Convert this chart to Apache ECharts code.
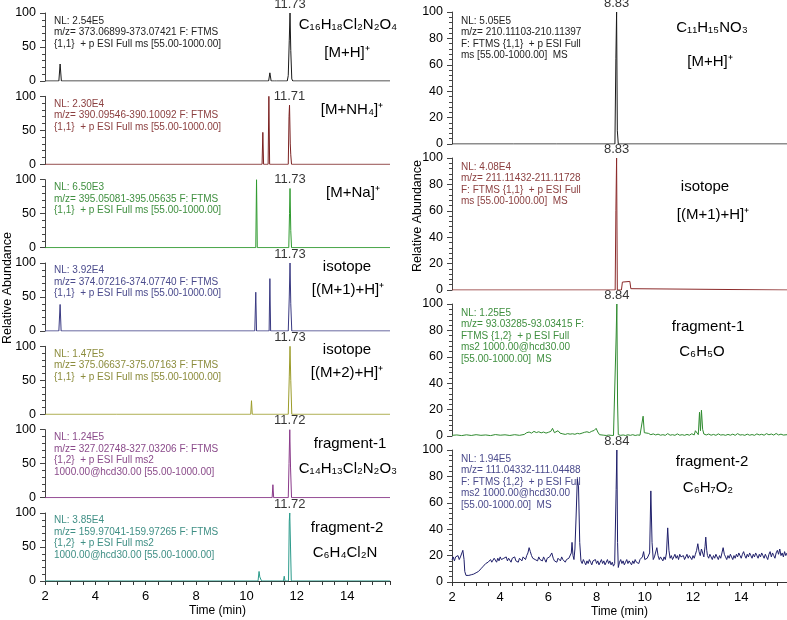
<!DOCTYPE html>
<html><head><meta charset="utf-8">
<script src="https://cdn.jsdelivr.net/npm/echarts@6/dist/echarts.min.js"></script>
<style>html,body{margin:0;padding:0;background:#fff}#c{width:787px;height:620px}</style>
</head><body><div id="c"></div>
<script>
// ---------------- data ----------------
const xTicks = [2, 4, 6, 8, 10, 12, 14];
const leftYTicks = [0, 50, 100];
const rightYTicks = [0, 20, 40, 60, 80, 100];

const L1 = [[2,0],[2.55,0],[2.6,25],[2.65,0],[10.88,0],[10.93,12],[10.98,0],[11.12,0],[11.15,2],[11.2,0],[11.62,0],[11.66,8],[11.7,60],[11.73,100],[11.76,45],[11.8,3],[11.84,0],[15.7,0]];
const L2 = [[2,0],[10.62,0],[10.65,47],[10.68,0],[10.86,0],[10.89,100],[10.92,0],[11.66,0],[11.69,70],[11.71,87],[11.74,30],[11.76,14],[11.79,0],[15.7,0]];
const L3 = [[2,0],[10.37,0],[10.4,100],[10.43,0],[11.68,0],[11.71,50],[11.73,87],[11.76,25],[11.79,0],[15.7,0]];
const L4 = [[2,0],[2.55,0],[2.6,39],[2.64,0],[10.33,0],[10.37,57],[10.4,0],[10.9,0],[10.93,77],[10.96,0],[11.66,0],[11.7,50],[11.73,100],[11.76,40],[11.8,0],[15.7,0]];
const L5 = [[2,0],[4.85,0],[4.87,1.5],[4.9,0],[10.17,0],[10.2,20],[10.23,0],[11.66,0],[11.7,55],[11.73,100],[11.76,50],[11.8,0],[15.7,0]];
const L6 = [[2,0],[11.02,0],[11.05,19],[11.08,0],[11.66,0],[11.69,50],[11.72,100],[11.75,45],[11.79,0],[15.7,0]];
const L7 = [[2,0],[2.42,0],[2.45,2],[2.5,0],[10.46,0],[10.5,14],[10.53,6],[10.56,4],[10.6,0],[11.47,0],[11.5,7],[11.53,0],[11.67,0],[11.7,88],[11.72,100],[11.75,50],[11.78,0],[15.7,0]];

const R1 = [[2,0],[4.55,0],[4.57,1],[4.6,0],[6.33,0],[6.36,1],[6.4,0],[8.76,0],[8.8,65],[8.83,100],[8.86,10],[8.9,0],[15.9,0]];
const R2 = [[2,0],[8.77,0],[8.8,60],[8.83,100],[8.86,0],[9.03,0],[9.07,6],[9.38,6.5],[9.42,1],[9.5,0],[15.9,0]];
const R3 = [[2,0.5],[2.2,0.8],[2.4,0.3],[2.6,0.9],[2.8,0.4],[3,1],[3.2,0.5],[3.4,0.8],[3.6,0.3],[3.8,1.1],[4,0.6],[4.2,0.9],[4.4,0.4],[4.6,1],[4.8,0.5],[5,1.2],[5.1,2.5],[5.2,3],[5.3,2.2],[5.4,3.5],[5.5,2.6],[5.6,3.2],[5.7,2.4],[5.8,3],[5.9,2.2],[6,2.8],[6.1,3.5],[6.17,5.8],[6.25,2.5],[6.32,2],[6.4,4],[6.48,2.2],[6.6,1.6],[6.7,1.2],[6.8,1.8],[6.9,1.4],[7,1.7],[7.1,1.3],[7.2,2],[7.3,1.6],[7.4,2.2],[7.5,2.8],[7.6,3.2],[7.7,2.6],[7.8,3.6],[7.9,4.2],[7.98,5.8],[8.05,3],[8.12,1],[8.2,0.3],[8.3,0.6],[8.4,0.4],[8.5,0.7],[8.6,0.5],[8.7,0.4],[8.78,0.5],[8.81,75],[8.84,100],[8.87,25],[8.9,1],[9,0.5],[9.1,0.8],[9.2,0.4],[9.3,0.9],[9.4,0.5],[9.5,1],[9.6,0.4],[9.7,0.8],[9.8,0.6],[9.88,0.8],[9.93,15],[9.98,2.5],[10.05,1.2],[10.15,2],[10.25,1],[10.35,1.6],[10.45,0.8],[10.55,1.4],[10.65,0.6],[10.75,1],[10.85,0.5],[10.95,1.8],[11.05,0.6],[11.15,1],[11.25,0.5],[11.35,1.6],[11.45,0.6],[11.55,1],[11.65,0.5],[11.75,1.2],[11.85,0.6],[11.95,1.7],[12.05,0.8],[12.1,4],[12.18,3.5],[12.22,1],[12.27,18],[12.31,4],[12.35,19.5],[12.4,5],[12.45,1.5],[12.55,0.8],[12.65,1.5],[12.75,0.6],[12.85,1.2],[12.95,0.5],[13.05,1.6],[13.15,0.7],[13.25,1],[13.35,0.5],[13.45,1.2],[13.55,0.6],[13.65,1.4],[13.75,0.5],[13.85,1.8],[13.95,0.7],[14.05,1],[14.15,0.5],[14.25,1.4],[14.35,0.6],[14.45,1.1],[14.55,0.5],[14.65,1.6],[14.75,0.8],[14.85,1.3],[14.95,0.6],[15.05,1.8],[15.15,0.9],[15.25,1.5],[15.35,0.7],[15.45,1.9],[15.55,0.8],[15.65,1.4],[15.75,0.7],[15.9,1]];
const R4 = [[2,17],[2.05,19],[2.1,16],[2.15,19],[2.2,18],[2.25,20],[2.3,17],[2.35,19],[2.4,20],[2.45,24],[2.5,17],[2.53,8],[2.58,5],[2.65,4],[2.7,5],[2.75,4.5],[2.8,5.5],[2.85,5],[2.9,6],[2.95,6.5],[3,7],[3.05,7],[3.1,8],[3.15,9],[3.2,10],[3.25,9.5],[3.3,12],[3.35,11],[3.4,14],[3.45,13],
[3.5,15],[3.55,14],[3.6,17],[3.65,15],[3.7,16],[3.75,18],[3.8,17],[3.85,15],[3.9,18],[3.95,16],[4,19],[4.05,17],[4.1,16],[4.15,18],[4.2,17],[4.25,19],[4.3,16],[4.35,18],[4.4,17],[4.45,15],[4.5,18],[4.55,17],[4.6,19],[4.65,16],[4.7,17],[4.75,15],[4.8,18],[4.85,17],[4.9,16],[4.95,19],[5,18],[5.05,17],[5.1,20],[5.15,22],[5.2,26],[5.25,23],[5.3,20],[5.35,18],[5.4,19],[5.45,17],[5.5,18],[5.55,16],[5.6,19],[5.65,17],[5.7,18],[5.75,16],[5.8,19],[5.85,17],[5.9,15],[5.95,18],[6,17],[6.05,19],[6.1,20],[6.14,22],[6.2,18],[6.25,16],[6.3,17],[6.35,15],[6.4,18],[6.45,17],[6.5,16],[6.55,19],[6.6,17],[6.65,18],[6.7,15],[6.75,17],[6.8,16],[6.85,18],[6.9,17],[6.95,22],[6.98,30],[7.02,20],[7.06,17],[7.1,25],[7.15,50],[7.2,78],[7.25,72],[7.3,30],[7.35,16],[7.4,14],[7.45,17],[7.5,15],[7.55,13],[7.6,16],[7.65,14],[7.7,17],[7.75,15],[7.8,13],[7.85,16],[7.9,15],[7.95,17],[8,14],[8.05,16],[8.1,13],[8.15,15],[8.2,17],[8.25,14],[8.3,16],[8.35,13],[8.4,15],[8.45,17],[8.5,14],[8.55,16],[8.6,13],[8.65,15],[8.7,12],[8.75,14],[8.79,13],[8.81,70],[8.84,100],[8.87,30],[8.9,11],[8.95,15],[9,17],[9.05,14],[9.1,16],[9.15,13],[9.2,15],[9.25,17],[9.3,14],[9.35,16],[9.4,15],[9.45,13],[9.5,16],[9.55,14],[9.6,17],[9.65,15],[9.7,16],[9.75,14],[9.8,17],[9.85,16],[9.9,19],[9.95,23],[10,17],[10.05,16],[10.1,18],[10.15,17],[10.2,22],[10.25,69],[10.3,30],[10.35,17],[10.4,19],[10.45,18],[10.5,26],[10.55,20],[10.6,17],[10.65,19],[10.7,18],[10.75,16],[10.8,19],[10.85,17],[10.9,22],[10.95,41],[11,24],[11.05,18],[11.1,20],[11.15,17],[11.2,19],[11.25,21],[11.3,18],[11.35,20],[11.4,17],[11.45,21],[11.5,19],[11.55,18],[11.6,20],[11.65,17],[11.7,19],[11.75,21],[11.8,18],[11.85,20],[11.9,19],[11.95,17],[12,20],[12.05,18],[12.1,21],[12.15,24],[12.2,29],[12.25,23],[12.3,20],[12.35,25],[12.4,22],[12.45,19],[12.5,27],[12.53,34],[12.57,24],[12.6,20],[12.65,18],[12.7,21],[12.75,19],[12.8,17],[12.85,20],[12.9,18],[12.95,21],[13,19],[13.05,17],[13.1,20],[13.15,18],[13.2,22],[13.25,26],[13.3,21],[13.35,19],[13.4,17],[13.45,20],[13.5,18],[13.55,21],[13.6,19],[13.65,17],[13.7,20],[13.75,18],[13.8,21],[13.85,19],[13.9,22],[13.95,20],[14,18],[14.05,21],[14.1,23],[14.15,20],[14.2,18],[14.25,21],[14.3,19],[14.35,22],[14.4,20],[14.45,18],[14.5,21],[14.55,19],[14.6,22],[14.65,20],[14.7,18],[14.75,21],[14.8,19],[14.85,22],[14.9,20],[14.95,18],[15,21],[15.05,19],[15.1,17],[15.15,21],[15.2,23],[15.25,19],[15.3,22],[15.35,20],[15.4,18],[15.45,22],[15.5,24],[15.55,21],[15.6,25],[15.65,20],[15.7,22],[15.75,19],[15.8,23],[15.85,20],[15.9,22]];

const leftData = [L1, L2, L3, L4, L5, L6, L7];
const rightData = [R1, R2, R3, R4];
const leftPeakTimes = [11.73, 11.71, 11.73, 11.73, 11.73, 11.72, 11.72];
const rightPeakTimes = [8.83, 8.83, 8.84, 8.84];

const leftInfo = [
  ["NL: 2.54E5", "m/z= 373.06899-373.07421 F: FTMS", "{1,1}  + p ESI Full ms [55.00-1000.00]"],
  ["NL: 2.30E4", "m/z= 390.09546-390.10092 F: FTMS", "{1,1}  + p ESI Full ms [55.00-1000.00]"],
  ["NL: 6.50E3", "m/z= 395.05081-395.05635 F: FTMS", "{1,1}  + p ESI Full ms [55.00-1000.00]"],
  ["NL: 3.92E4", "m/z= 374.07216-374.07740 F: FTMS", "{1,1}  + p ESI Full ms [55.00-1000.00]"],
  ["NL: 1.47E5", "m/z= 375.06637-375.07163 F: FTMS", "{1,1}  + p ESI Full ms [55.00-1000.00]"],
  ["NL: 1.24E5", "m/z= 327.02748-327.03206 F: FTMS", "{1,2}  + p ESI Full ms2", "1000.00@hcd30.00 [55.00-1000.00]"],
  ["NL: 3.85E4", "m/z= 159.97041-159.97265 F: FTMS", "{1,2}  + p ESI Full ms2", "1000.00@hcd30.00 [55.00-1000.00]"]
];
const rightInfo = [
  ["NL: 5.05E5", "m/z= 210.11103-210.11397", "F: FTMS {1,1}  + p ESI Full", "ms [55.00-1000.00]  MS"],
  ["NL: 4.08E4", "m/z= 211.11432-211.11728", "F: FTMS {1,1}  + p ESI Full", "ms [55.00-1000.00]  MS"],
  ["NL: 1.25E5", "m/z= 93.03285-93.03415 F:", "FTMS {1,2}  + p ESI Full", "ms2 1000.00@hcd30.00", "[55.00-1000.00]  MS"],
  ["NL: 1.94E5", "m/z= 111.04332-111.04488", "F: FTMS {1,2}  + p ESI Full", "ms2 1000.00@hcd30.00", "[55.00-1000.00]  MS"]
];
const leftTags = [
  ["C₁₆H₁₈Cl₂N₂O₄", "[M+H]⁺"],
  ["[M+NH₄]⁺"],
  ["[M+Na]⁺"],
  ["isotope", "[(M+1)+H]⁺"],
  ["isotope", "[(M+2)+H]⁺"],
  ["fragment-1", "C₁₄H₁₃Cl₂N₂O₃"],
  ["fragment-2", "C₆H₄Cl₂N"]
];
const rightTags = [
  ["C₁₁H₁₅NO₃", "[M+H]⁺"],
  ["isotope", "[(M+1)+H]⁺"],
  ["fragment-1", "C₆H₅O"],
  ["fragment-2", "C₆H₇O₂"]
];
const axisTitleX = "Time (min)";
const axisTitleY = "Relative Abundance";

// ---------------- styles / layout ----------------
const leftColors = ['#1a1a1a', '#7b2222', '#2f9a2f', '#3a3a82', '#9c9c2a', '#8a3a8a', '#2a9a8a'];
const leftTextColors = ['#222222', '#8c4040', '#3f8f3f', '#4a4a8c', '#8c8c3c', '#8a4a8a', '#3f8f85'];
const rightColors = ['#1a1a1a', '#8b2a2a', '#2f8a2f', '#1f1f6a'];
const rightTextColors = ['#222222', '#8c4040', '#3f8f3f', '#4a4a8c'];
const FONT = 'Liberation Sans, Arial, sans-serif';

const LG = { left: 45, width: 345, h: 68, top0: 13, step: 83.33, xMax: 15.7 };
const RG = { left: 452, width: 335, h: 132, top0: 12, step: 146, xMax: 15.9 };
const leftTagPos = [[[348, 12], [347, 40]], [[352, 14]], [[353, 13]], [[347, 4], [348, 27]], [[347, 4], [347, 27]], [[350, 14], [348, 39]], [[347, 15], [345, 40]]];
const rightTagPos = [[[712, 16], [710, 50]], [[705, 29], [713, 57]], [[708, 23], [702, 48]], [[712, 12], [708, 38]]];

const grids = [], xAxes = [], yAxes = [], series = [], graphic = [];

function addPanel(data, peakT, color, tcolor, info, tags, tagPos, G, i, n, yTicks, infoX, infoOff) {
  const top = G.top0 + G.step * i;
  const gi = grids.length;
  const isBottom = i === n - 1;
  grids.push({ left: G.left, top: top, width: G.width, height: G.h });
  xAxes.push({
    type: 'value', gridIndex: gi, min: 2, max: G.xMax, interval: 2, show: isBottom,
    axisLine: { show: true, lineStyle: { color: '#333', width: 1 } },
    axisTick: { show: true, length: 4, lineStyle: { color: '#333' } },
    minorTick: { show: true, splitNumber: 4, length: 4, lineStyle: { color: '#333' } },
    splitLine: { show: false },
    axisLabel: { show: true, fontSize: 13, color: '#000', fontFamily: FONT, margin: 9, showMaxLabel: false,
      formatter: v => xTicks.includes(v) ? String(v) : '' },
    name: isBottom ? axisTitleX : '', nameLocation: 'middle', nameGap: 24,
    nameTextStyle: { fontSize: 12, color: '#000', fontFamily: FONT }
  });
  yAxes.push({
    type: 'value', gridIndex: gi, min: 0, max: 100, interval: yTicks[1] - yTicks[0],
    axisLine: { show: true, lineStyle: { color: '#444', width: 1 } },
    axisTick: { show: true, length: 5, lineStyle: { color: '#444' } },
    minorTick: { show: true, splitNumber: 5, length: 3, lineStyle: { color: '#444' } },
    splitLine: { show: false },
    axisLabel: { fontSize: 12.5, color: '#000', fontFamily: FONT, margin: 9,
      formatter: v => yTicks.includes(v) ? String(v) : '' }
  });
  series.push({
    type: 'line', xAxisIndex: gi, yAxisIndex: gi, data: data, showSymbol: false, symbol: 'none',
    lineStyle: { color: color, width: 1 }, animation: false, silent: true
  });
  const peak = data.find(p => p[0] === peakT);
  series.push({
    type: 'scatter', xAxisIndex: gi, yAxisIndex: gi, data: [peak], symbolSize: 1, clip: false,
    itemStyle: { color: 'rgba(0,0,0,0)' }, animation: false, silent: true,
    label: { show: true, position: 'top', distance: 2, fontSize: 13, color: '#000', fontFamily: FONT,
      formatter: p => p.value[0].toFixed(2) }
  });
  graphic.push({
    type: 'text', x: infoX, y: top + infoOff, silent: true,
    style: { text: info.join('\n'), fill: tcolor, fontSize: 10, fontFamily: FONT, lineHeight: 11.5,
      align: 'left', verticalAlign: 'top', textAlign: 'left', textVerticalAlign: 'top' }
  });
  tags.forEach((t, k) => {
    graphic.push({
      type: 'text', x: tagPos[k][0], y: top + tagPos[k][1], silent: true,
      style: { text: t, fill: '#000', fontSize: 15, fontFamily: FONT,
        align: 'center', verticalAlign: 'middle', textAlign: 'center', textVerticalAlign: 'middle' }
    });
  });
}

leftData.forEach((d, i) => addPanel(d, leftPeakTimes[i], leftColors[i], leftTextColors[i], leftInfo[i], leftTags[i], leftTagPos[i], LG, i, leftData.length, leftYTicks, 54, 2));
rightData.forEach((d, i) => addPanel(d, rightPeakTimes[i], rightColors[i], rightTextColors[i], rightInfo[i], rightTags[i], rightTagPos[i], RG, i, rightData.length, rightYTicks, 461, 3));

graphic.push({ type: 'text', x: 8, y: 288, rotation: Math.PI / 2, silent: true,
  style: { text: axisTitleY, fill: '#000', fontSize: 12.5, fontFamily: FONT, align: 'center', verticalAlign: 'middle', textAlign: 'center', textVerticalAlign: 'middle' } });
graphic.push({ type: 'text', x: 418, y: 216, rotation: Math.PI / 2, silent: true,
  style: { text: axisTitleY, fill: '#000', fontSize: 12.5, fontFamily: FONT, align: 'center', verticalAlign: 'middle', textAlign: 'center', textVerticalAlign: 'middle' } });

const chart = echarts.init(document.getElementById('c'), null, { renderer: 'canvas' });
chart.setOption({
  backgroundColor: '#fff', animation: false,
  grid: grids, xAxis: xAxes, yAxis: yAxes, series: series, graphic: graphic
});
</script>
</body></html>
